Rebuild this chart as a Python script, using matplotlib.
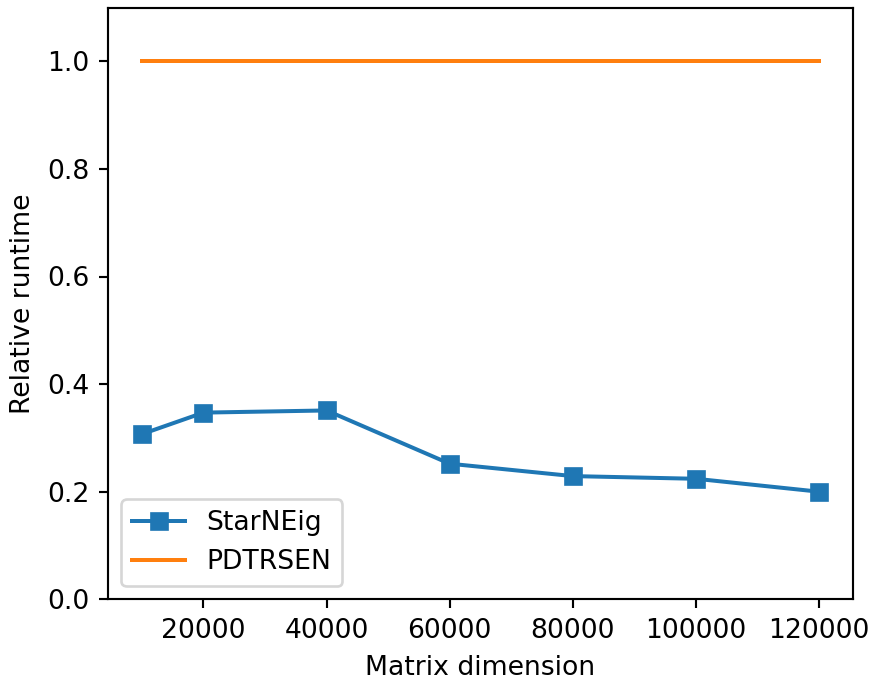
import matplotlib
matplotlib.use("Agg")
import matplotlib.pyplot as plt

# Matrix dimensions and runtimes relative to PDTRSEN
dims = [10000, 20000, 40000, 60000, 80000, 100000, 120000]
starneig = [0.307, 0.347, 0.351, 0.252, 0.229, 0.224, 0.200]
pdtrsen = [1.0, 1.0, 1.0, 1.0, 1.0, 1.0, 1.0]

DPI = 192
W, H = 870, 679
fig = plt.figure(figsize=(W / DPI, H / DPI), dpi=DPI)
left, right, top, bottom = 108, 853, 7.5, 599.3
ax = fig.add_axes([left / W, 1 - bottom / H, (right - left) / W, (bottom - top) / H])

ax.plot(dims, starneig, marker="s", label="StarNEig")
ax.plot(dims, pdtrsen, label="PDTRSEN")

ax.set_ylim(0, 1.1)
ax.set_xlabel("Matrix dimension")
ax.set_ylabel("Relative runtime")
ax.legend(loc="lower left")

fig.savefig("out.png", dpi=DPI)
